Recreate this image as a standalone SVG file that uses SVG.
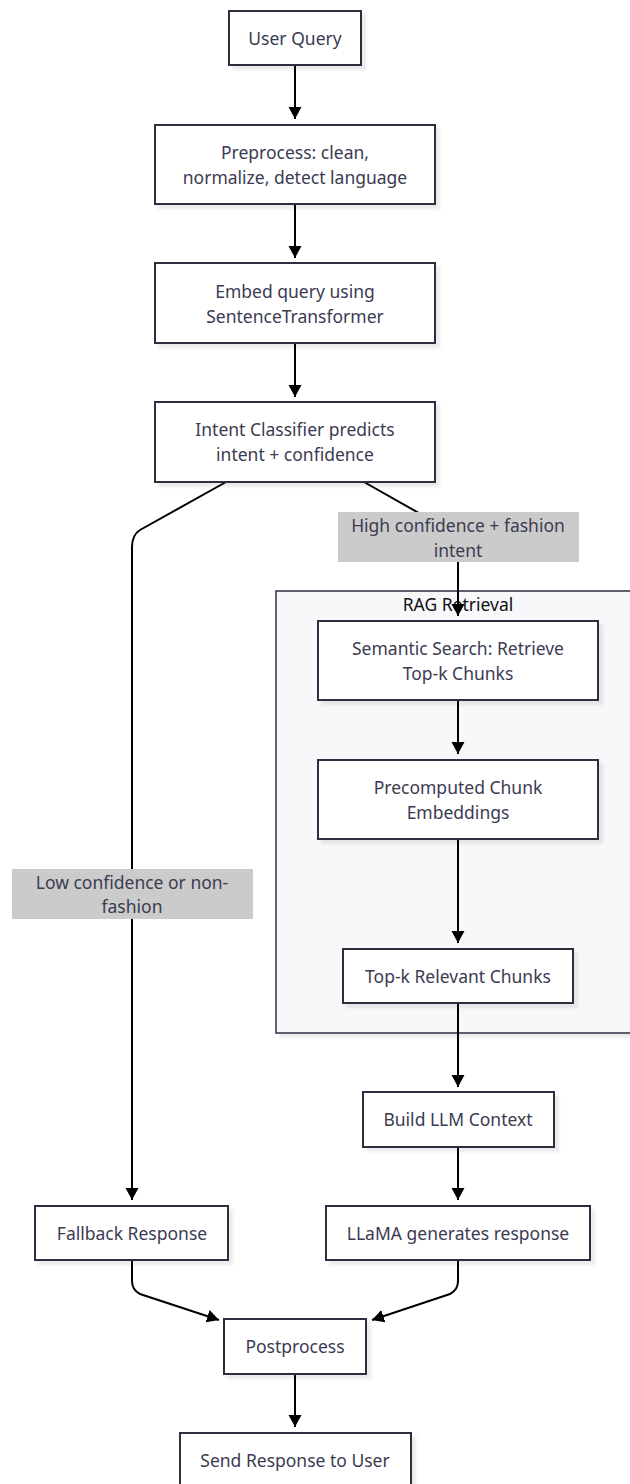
<svg xmlns="http://www.w3.org/2000/svg" width="630" height="1484" viewBox="0 0 630 1484">
<style>
.node rect{fill:#ffffff;stroke:#2e2e40;stroke-width:2;filter:url(#sh)}
.t{font-family:"Noto Sans","Liberation Sans",sans-serif;font-size:17.5px;fill:#3b3b52;text-anchor:middle;dominant-baseline:central}
.lbl rect{fill:#cbcbcb}
.edge{fill:none;stroke:#000;stroke-width:2}
.cl{fill:#f8f8fa;stroke:#2e2e40;stroke-width:1.5;filter:url(#sh)}
.ct{font-family:"Noto Sans","Liberation Sans",sans-serif;font-size:17.5px;fill:#111;text-anchor:middle;dominant-baseline:central}
</style>
<defs>
<filter id="sh" x="-10%" y="-10%" width="130%" height="140%">
<feDropShadow dx="4" dy="4" stdDeviation="1.5" flood-color="#000" flood-opacity="0.08"/>
</filter>
<marker id="ah" markerUnits="userSpaceOnUse" markerWidth="14" markerHeight="14" refX="12" refY="6.5" orient="auto">
<path d="M0,0 L12,6.5 L0,13 z" fill="#000"/>
</marker>
</defs>
<rect width="630" height="1484" fill="#ffffff"/>

<g id="cluster-rag">
<rect class="cl" x="276" y="591" width="370" height="442"/>
<text class="ct" x="458" y="604">RAG Retrieval</text>
</g>

<g id="connectors">
<path class="edge" d="M295,65 L295,119" marker-end="url(#ah)"/>
<path class="edge" d="M295,204 L295,258" marker-end="url(#ah)"/>
<path class="edge" d="M295,343 L295,397" marker-end="url(#ah)"/>
<path class="edge" d="M226,482 L140,530 Q132,535 132,547 L132,1200" marker-end="url(#ah)"/>
<path class="edge" d="M364,482 L440,525 Q458,535 458,550 L458,616" marker-end="url(#ah)"/>
<path class="edge" d="M458,700 L458,754" marker-end="url(#ah)"/>
<path class="edge" d="M458,839 L458,943" marker-end="url(#ah)"/>
<path class="edge" d="M458,1003 L458,1087" marker-end="url(#ah)"/>
<path class="edge" d="M458,1147 L458,1200" marker-end="url(#ah)"/>
<path class="edge" d="M132,1260 L132,1281 Q132,1290 140,1294 L219,1320" marker-end="url(#ah)"/>
<path class="edge" d="M458,1260 L458,1281 Q458,1290 450,1294 L372,1320" marker-end="url(#ah)"/>
<path class="edge" d="M295,1374 L295,1427" marker-end="url(#ah)"/>
</g>

<g id="label-high" class="lbl">
<rect x="338" y="512" width="241" height="50"/>
<text class="t" x="458" y="524.5">High confidence + fashion</text>
<text class="t" x="458" y="549.5">intent</text>
</g>
<g id="label-low" class="lbl">
<rect x="12" y="869" width="241" height="50"/>
<text class="t" x="132" y="882">Low confidence or non-</text>
<text class="t" x="132" y="906">fashion</text>
</g>

<g id="n-user-query" class="node">
<rect x="229" y="11" width="132" height="54"/>
<text class="t" x="295" y="38">User Query</text>
</g>
<g id="n-preprocess" class="node">
<rect x="155" y="125" width="280" height="79"/>
<text class="t" x="295" y="152">Preprocess: clean,</text>
<text class="t" x="295" y="177">normalize, detect language</text>
</g>
<g id="n-embed" class="node">
<rect x="155" y="263" width="280" height="80"/>
<text class="t" x="295" y="291">Embed query using</text>
<text class="t" x="295" y="316">SentenceTransformer</text>
</g>
<g id="n-intent" class="node">
<rect x="155" y="402" width="280" height="80"/>
<text class="t" x="295" y="429">Intent Classifier predicts</text>
<text class="t" x="295" y="454">intent + confidence</text>
</g>
<g id="n-semantic" class="node">
<rect x="318" y="621" width="280" height="79"/>
<text class="t" x="458" y="648">Semantic Search: Retrieve</text>
<text class="t" x="458" y="673">Top-k Chunks</text>
</g>
<g id="n-precomputed" class="node">
<rect x="318" y="760" width="280" height="79"/>
<text class="t" x="458" y="787">Precomputed Chunk</text>
<text class="t" x="458" y="812">Embeddings</text>
</g>
<g id="n-topk" class="node">
<rect x="343" y="949" width="230" height="54"/>
<text class="t" x="458" y="976">Top-k Relevant Chunks</text>
</g>
<g id="n-build" class="node">
<rect x="363" y="1092" width="191" height="55"/>
<text class="t" x="458" y="1119">Build LLM Context</text>
</g>
<g id="n-fallback" class="node">
<rect x="35" y="1206" width="193" height="54"/>
<text class="t" x="132" y="1233">Fallback Response</text>
</g>
<g id="n-llama" class="node">
<rect x="326" y="1206" width="264" height="54"/>
<text class="t" x="458" y="1233">LLaMA generates response</text>
</g>
<g id="n-postprocess" class="node">
<rect x="224" y="1319" width="142" height="55"/>
<text class="t" x="295" y="1346">Postprocess</text>
</g>
<g id="n-send" class="node">
<rect x="180" y="1433" width="231" height="54"/>
<text class="t" x="295" y="1460">Send Response to User</text>
</g>
</svg>
